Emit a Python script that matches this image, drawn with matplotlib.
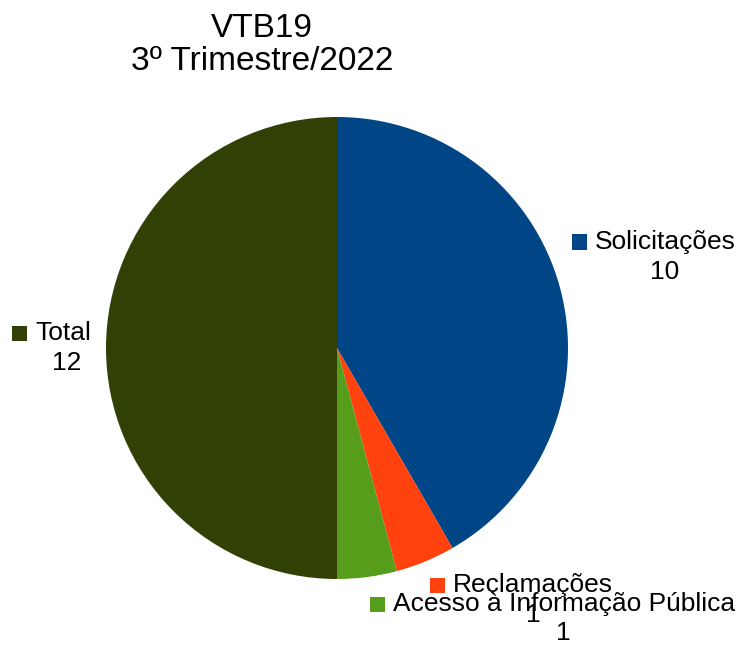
import matplotlib
matplotlib.use("Agg")
import matplotlib.pyplot as plt
from matplotlib.patches import Rectangle

plt.rcParams['font.family'] = ['Liberation Sans', 'DejaVu Sans']

categories = ["Solicitações", "Reclamações", "Acesso à Informação Pública", "Total"]
values = [10, 1, 1, 12]
colors = ["#004586", "#ff420e", "#579d1c", "#314004"]
title = "VTB19\n3º Trimestre/2022"

W, H = 742, 646
fig = plt.figure(figsize=(W / 100, H / 100), dpi=100)
fig.patch.set_facecolor("white")

# pie area: centre (337, 348) px, radius 231 px
cx, cy, r = 337, 348, 231
ax = fig.add_axes([(cx - r) / W, 1 - (cy + r) / H, 2 * r / W, 2 * r / H])
ax.pie(values, colors=colors, startangle=90, counterclock=False,
       radius=1, wedgeprops=dict(linewidth=0))
ax.set_xlim(-1, 1)
ax.set_ylim(-1, 1)
ax.set_aspect("equal")
ax.axis("off")

fig.text(262 / W, 1 - 45 / H, title, ha="center", va="center",
         fontsize=24, linespacing=1.1)

# data labels: (square left x, text centre y, value centre x, value centre y) in px
label_pos = [
    (572, 242, 665, 272),
    (430, 585, 533, 615),
    (370, 604, 563, 633),
    (12, 333, 67, 363),
]
sq = 15
label_size = 19
for name, val, col, (lx, ly, vx, vy) in zip(categories, values, colors, label_pos):
    fig.patches.append(Rectangle((lx / W, 1 - (ly + sq / 2) / H), sq / W, sq / H,
                                 transform=fig.transFigure, facecolor=col,
                                 edgecolor="none"))
    fig.text((lx + sq + 8) / W, 1 - ly / H, name, ha="left", va="center",
             fontsize=label_size)
    fig.text(vx / W, 1 - vy / H, str(val), ha="center", va="center",
             fontsize=label_size)

fig.savefig("out.png", dpi=100)
